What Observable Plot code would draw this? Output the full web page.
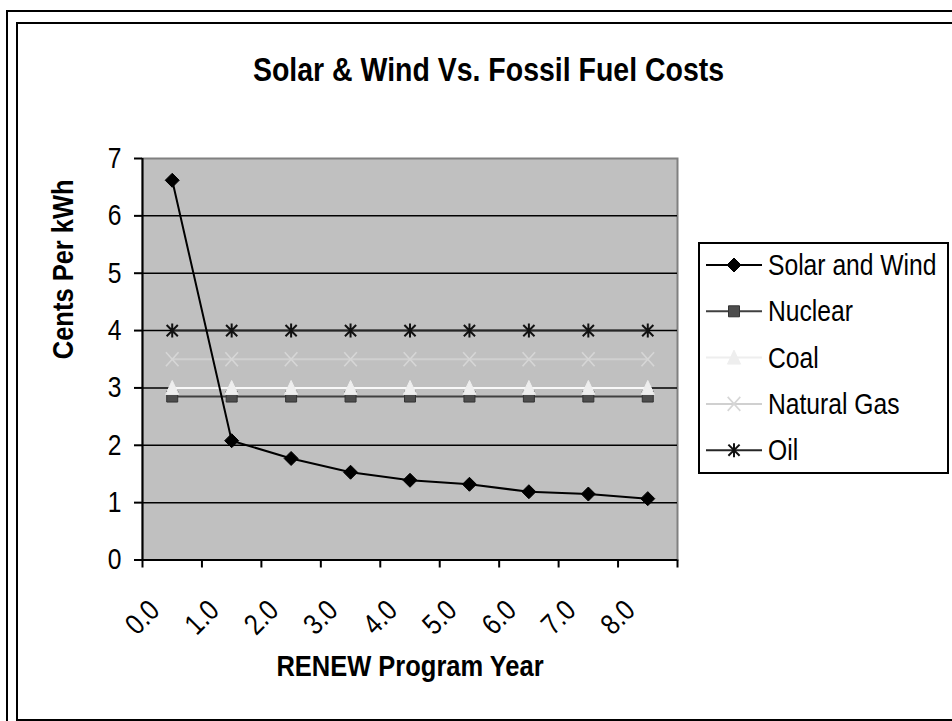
<!DOCTYPE html>
<html>
<head>
<meta charset="utf-8">
<script src="https://cdn.jsdelivr.net/npm/d3@7"></script>
<script src="https://cdn.jsdelivr.net/npm/@observablehq/plot@0.6"></script>
<style>
  html, body { margin: 0; padding: 0; background: #fff; }
  #wrap { position: relative; width: 952px; height: 721px; overflow: hidden; background: #fff; font-family: "Liberation Sans", Arial, sans-serif; }
  .outer { position: absolute; left: 6px; top: 10px; width: 2000px; height: 2000px; border-left: 2px solid #000; border-top: 2px solid #000; box-sizing: border-box; }
  .inner { position: absolute; left: 16px; top: 22px; width: 2000px; height: 699px; border-left: 2px solid #000; border-top: 2px solid #000; border-bottom: 2px solid #000; box-sizing: border-box; }
  #chart { position: absolute; left: 0; top: 0; }
  #legend { position: absolute; left: 698px; top: 242px; width: 251px; height: 232px; border: 2px solid #000; box-sizing: border-box; background: #fff; }
</style>
</head>
<body>
<div id="wrap">
  <div class="outer"></div>
  <div class="inner"></div>
  <div id="chart"></div>
  <div id="legend"></div>
</div>
<script>
// ---- data ----
const years = ["0.0", "1.0", "2.0", "3.0", "4.0", "5.0", "6.0", "7.0", "8.0"];
const solarAndWind = [6.62, 2.08, 1.77, 1.53, 1.39, 1.32, 1.19, 1.15, 1.07];
const nuclear = [2.85, 2.85, 2.85, 2.85, 2.85, 2.85, 2.85, 2.85, 2.85];
const coal = [3.0, 3.0, 3.0, 3.0, 3.0, 3.0, 3.0, 3.0, 3.0];
const naturalGas = [3.5, 3.5, 3.5, 3.5, 3.5, 3.5, 3.5, 3.5, 3.5];
const oil = [4.0, 4.0, 4.0, 4.0, 4.0, 4.0, 4.0, 4.0, 4.0];
const seriesNames = ["Solar and Wind", "Nuclear", "Coal", "Natural Gas", "Oil"];
const yTicks = [0, 1, 2, 3, 4, 5, 6, 7];
const titleText = "Solar & Wind Vs. Fossil Fuel Costs";
const yTitle = "Cents Per kWh";
const xTitle = "RENEW Program Year";

// ---- symbols ----
const rad = size => Math.sqrt(size / Math.PI);
const diamond = {draw(c, s) { const r = rad(s); c.moveTo(0, -r); c.lineTo(r, 0); c.lineTo(0, r); c.lineTo(-r, 0); c.closePath(); }};
const square = {draw(c, s) { const r = rad(s); c.rect(-r, -r, 2 * r, 2 * r); }};
const triangle = {draw(c, s) { const r = rad(s); c.moveTo(0, -r * 1.15); c.lineTo(r, r); c.lineTo(-r, r); c.closePath(); }};
const cross = {draw(c, s) { const r = rad(s); c.moveTo(-r * 0.9, -r); c.lineTo(r * 0.9, r); c.moveTo(r * 0.9, -r); c.lineTo(-r * 0.9, r); }};
const asterisk = {draw(c, s) { const r = rad(s); c.moveTo(-r * 0.8, -r * 0.8); c.lineTo(r * 0.8, r * 0.8); c.moveTo(r * 0.8, -r * 0.8); c.lineTo(-r * 0.8, r * 0.8); c.moveTo(0, -r); c.lineTo(0, r); }};

const styles = {
  "Solar and Wind": {line: "#000", legendLine: "#000", lw: 2, symbol: diamond, r: 7, fill: "#000", mstroke: "#000", mw: 1},
  "Nuclear": {line: "#404040", legendLine: "#404040", lw: 2, symbol: square, r: 5.5, fill: "#4d4d4d", mstroke: "#333", mw: 1},
  "Coal": {line: "#f8f8f8", legendLine: "#eeeeee", lw: 2, symbol: triangle, r: 6.5, fill: "#eeeeee", mstroke: "#eeeeee", mw: 1},
  "Natural Gas": {line: "#d0d0d0", legendLine: "#d0d0d0", lw: 2, symbol: cross, r: 7, fill: "none", mstroke: "#d6d6d6", mw: 1.6},
  "Oil": {line: "#262626", legendLine: "#262626", lw: 2, symbol: asterisk, r: 7, fill: "none", mstroke: "#111", mw: 2}
};

const valuesByName = {
  "Solar and Wind": solarAndWind,
  "Nuclear": nuclear,
  "Coal": coal,
  "Natural Gas": naturalGas,
  "Oil": oil
};
const table = seriesNames.flatMap(name => valuesByName[name].map((v, i) => ({name, year: years[i], pos: i + 0.5, value: v})));
const drawOrder = ["Nuclear", "Coal", "Natural Gas", "Oil", "Solar and Wind"];
const boundaries = d3.range(years.length + 1);

const seriesMarks = drawOrder.flatMap(name => {
  const st = styles[name];
  const d = table.filter(r => r.name === name);
  return [
    Plot.line(d, {x: "pos", y: "value", stroke: st.line, strokeWidth: st.lw}),
    Plot.dot(d, {x: "pos", y: "value", symbol: st.symbol, r: st.r, fill: st.fill, stroke: st.mstroke, strokeWidth: st.mw})
  ];
});

const FONT = "'Liberation Sans', Arial, sans-serif";
const NARROW = 0.85;

const chart = Plot.plot({
  width: 952,
  height: 721,
  marginLeft: 142,
  marginRight: 275,
  marginTop: 158,
  marginBottom: 161.5,
  style: {fontFamily: FONT, fontSize: "29px", background: "transparent", overflow: "visible", color: "#000"},
  x: {type: "linear", domain: [0, years.length]},
  y: {domain: [0, 7]},
  marks: [
    Plot.frame({fill: "#c0c0c0", stroke: "#808080", strokeWidth: 2}),
    Plot.ruleY(yTicks.filter(t => t > 0 && t < 7), {stroke: "#000", strokeWidth: 1.5}),
    ...seriesMarks,
    Plot.ruleX([0], {stroke: "#000", strokeWidth: 2}),
    Plot.ruleY([0], {stroke: "#000", strokeWidth: 2}),
    Plot.axisY({ticks: yTicks, tickSize: 8, tickPadding: 13, fontSize: 29, strokeWidth: 2, label: null, tickFormat: d => String(d)}),
    Plot.axisX({ticks: boundaries, tickSize: 8, tickFormat: () => "", strokeWidth: 2, label: null}),
    Plot.text(years, {x: (d, i) => i + 0.5, text: d => d, frameAnchor: "bottom", dx: -11, dy: 52, rotate: -45, textAnchor: "end", lineAnchor: "bottom", fontSize: 29}),
    Plot.text([xTitle], {frameAnchor: "bottom", dy: 106.5, lineAnchor: "middle", fontSize: 30, fontWeight: "bold"}),
    Plot.text([yTitle], {frameAnchor: "left", dx: -79, rotate: -90, lineAnchor: "middle", fontSize: 30, fontWeight: "bold"}),
    Plot.text([titleText], {frameAnchor: "top", dx: 78.5, dy: -88, lineAnchor: "middle", fontSize: 33.5, fontWeight: "bold"})
  ]
});
document.getElementById("chart").appendChild(chart);

// narrow the glyphs horizontally (along the baseline), as in the reference rendering
function narrow(root) {
  d3.select(root).selectAll("text").each(function() {
    const el = d3.select(this);
    let t = el.attr("transform");
    if (!t) {
      const x = +(el.attr("x") || 0), y = +(el.attr("y") || 0);
      el.attr("x", null).attr("y", null);
      t = `translate(${x},${y})`;
    }
    el.attr("transform", `${t} scale(${NARROW},1)`);
  });
}
narrow(chart);

// ---- legend ----
const lg = d3.select("#legend").append("svg").attr("width", 247).attr("height", 228).style("display", "block");
seriesNames.forEach((name, i) => {
  const st = styles[name];
  const cy = 21 + i * 46.3;
  const g = lg.append("g").attr("transform", `translate(0,${cy})`);
  g.append("line").attr("x1", 6).attr("x2", 62).attr("y1", 0).attr("y2", 0).attr("stroke", st.legendLine).attr("stroke-width", st.lw);
  g.append("path").attr("transform", "translate(34,0)")
    .attr("d", d3.symbol(st.symbol, Math.PI * st.r * st.r)())
    .attr("fill", st.fill).attr("stroke", st.mstroke).attr("stroke-width", st.mw);
  g.append("text").attr("x", 0).attr("y", 0).attr("dy", "0.35em")
    .attr("transform", `translate(68,0) scale(${NARROW},1)`)
    .attr("font-family", FONT).attr("font-size", 29).text(name);
});
</script>
</body>
</html>
